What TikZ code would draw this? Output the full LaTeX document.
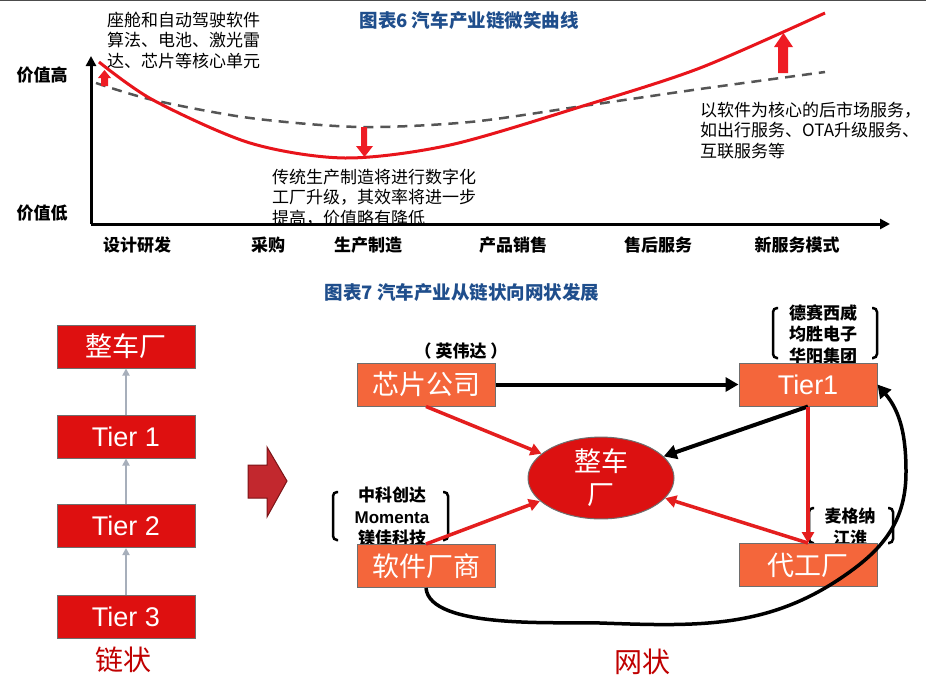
\documentclass[tikz,border=0pt]{standalone}
\usepackage{fontspec}
\setmainfont{Noto Sans CJK SC}
\newfontfamily\latinfont{Liberation Sans}
\usetikzlibrary{shapes.geometric,arrows.meta}
\definecolor{titleblue}{HTML}{1F4E8C}
\definecolor{curvered}{HTML}{E8141B}
\definecolor{dashgray}{HTML}{555555}
\definecolor{arrowred}{HTML}{EE1C24}
\definecolor{chainred}{HTML}{DE1010}
\definecolor{netorange}{HTML}{F4663B}
\definecolor{boxborder}{HTML}{6E6E6E}
\definecolor{oemred}{HTML}{DC1111}
\definecolor{connred}{HTML}{E41E1E}
\definecolor{chaingray}{HTML}{A7AFBB}
\definecolor{tagred}{HTML}{C00000}
\definecolor{bigfill}{HTML}{C2282E}
\definecolor{bigdraw}{HTML}{7A1417}
\tikzset{
  charttitle/.style={font=\fontsize{18.5pt}{22pt}\selectfont\bfseries, text=titleblue, inner sep=0pt},
  remark/.style={font=\fontsize{17pt}{20.5pt}\selectfont, align=left, inner sep=0pt, anchor=base west},
  axislabel/.style={font=\fontsize{17pt}{20pt}\selectfont\bfseries, inner sep=0pt},
  axis/.style={line width=3pt, -{Triangle[length=10pt,width=10pt]}},
  chainbox/.style={draw=boxborder, line width=1pt, fill=chainred, text=white, minimum width=138pt, minimum height=43pt, inner sep=0pt, font=\fontsize{27pt}{30pt}\selectfont},
  netbox/.style={chainbox, fill=netorange},
  chainarrow/.style={draw=chaingray, line width=2pt, -{Triangle[length=7pt,width=7pt]}},
  tag/.style={text=tagred, font=\fontsize{28pt}{30pt}\selectfont, inner sep=0pt},
  firm/.style={font=\fontsize{17pt}{21.5pt}\selectfont\bfseries, align=center, inner sep=0pt},
  brk/.style={line width=2.5pt, rounded corners=4pt},
  blackarrow/.style={line width=4pt, -{Triangle[length=13pt,width=14pt]}},
  redarrow/.style={draw=connred, line width=3.5pt, -{Triangle[length=11pt,width=12pt]}}
}
\begin{document}
\begin{tikzpicture}[x=1pt,y=-1pt]
\useasboundingbox (0,0) rectangle (926,691);
\fill[white] (0,0) rectangle (926,691);
\draw[gray!60!black, line width=1pt] (0,0.5) -- (926,0.5);

% smile curve
\node[charttitle] (t6) at (469,20) {图表6 汽车产业链微笑曲线};
\node[remark] (core) at (107,67) {座舱和自动驾驶软件\\算法、电池、激光雷\\达、芯片等核心单元};
\node[remark] (make) at (272,224) {传统生产制造将进行数字化\\工厂升级，其效率将进一步\\提高，价值略有降低};
\node[remark] (svc) at (700,157) {以软件为核心的后市场服务，\\如出行服务、OTA升级服务、\\互联服务等};

\draw[dashgray, line width=2.5pt, dash pattern=on 10pt off 7pt]
  plot[smooth] coordinates {(96,83) (153,100) (250,118) (360,127) (470,122) (583,106) (700,89) (825,72)};
\draw[curvered, line width=3pt]
  plot[smooth] coordinates {(99,62) (153,100) (250,143) (345,158) (450,145) (583,106) (700,68) (825,13)};

\fill[arrowred] (101,86) -- (101,78) -- (98,78) -- (104.5,70) -- (111,78) -- (108,78) -- (108,86) -- cycle;
\fill[arrowred] (361,127) -- (367,127) -- (367,146) -- (373,146) -- (364.5,157) -- (356,146) -- (361,146) -- cycle;
\fill[arrowred] (778,73) -- (788,73) -- (788,47) -- (793,47) -- (783.5,33) -- (774,47) -- (778,47) -- cycle;

\coordinate (o) at (91,224);
\coordinate (ytip) at (91,56);
\coordinate (xtip) at (890,224);
\draw[axis] (o) -- (ytip);
\draw[axis] (o) -- (xtip);

\node[axislabel] (high) at (42,75) {价值高};
\node[axislabel] (low) at (42,213) {价值低};
\foreach \x/\t [count=\i] in {137/设计研发, 268/采购, 368/生产制造, 513/产品销售, 658/售后服务, 797/新服务模式}
  \node[axislabel] (stage\i) at (\x,245) {\t};

% chain
\node[charttitle] (t7) at (462,292) {图表7 汽车产业从链状向网状发展};
\node[chainbox] (oemc) at (126,346.5) {整车厂};
\node[chainbox, font=\fontsize{27pt}{30pt}\latinfont] (c1) at (126,436.5) {Tier 1};
\node[chainbox, font=\fontsize{27pt}{30pt}\latinfont] (c2) at (126,526) {Tier 2};
\node[chainbox, font=\fontsize{27pt}{30pt}\latinfont] (c3) at (126,616.5) {Tier 3};
\draw[chainarrow] (c3) -- (c2);
\draw[chainarrow] (c2) -- (c1);
\draw[chainarrow] (c1) -- (oemc);
\node[tag] (chainlbl) at (123,660) {链状};

\draw[bigdraw, fill=bigfill, line width=1pt] (248,465) -- (267,465) -- (267,447) -- (287,481) -- (267,517) -- (267,498) -- (248,498) -- cycle;

% network
\node[firm] (nv) at (461,351) {（\ 英伟达\ ）};
\node[firm] (tierfirms) at (823,334) {德赛西威\\均胜电子\\华阳集团};
\draw[brk] (778,308) -- (773,308) -- (773,358) -- (778,358);
\draw[brk] (872,308) -- (877,308) -- (877,358) -- (872,358);
\node[firm] (softfirms) at (392,517) {中科创达\\{\latinfont\bfseries Momenta}\\镁佳科技};
\draw[brk] (338,492) -- (333,492) -- (333,540) -- (338,540);
\draw[brk] (443,492) -- (448,492) -- (448,540) -- (443,540);
\node[firm] (fabfirms) at (850,527) {麦格纳\\江淮};
\draw[brk] (814,508) -- (809,508) -- (809,543) -- (814,543);
\draw[brk] (888,508) -- (893,508) -- (893,543) -- (888,543);

\node[netbox] (chip) at (426,384.5) {芯片公司};
\node[netbox, font=\fontsize{27pt}{30pt}\latinfont] (tier) at (808,384.5) {Tier1};
\node[netbox] (soft) at (426,566) {软件厂商};
\node[netbox] (fab) at (808,565) {代工厂};
\node[ellipse, draw=boxborder, line width=1pt, fill=oemred, text=white, minimum width=146pt, minimum height=78pt, inner sep=0pt, align=center, font=\fontsize{27pt}{33pt}\selectfont] (oem) at (601,478) {整车\\厂};

\draw[blackarrow] (chip) -- (tier);
\draw[redarrow] (chip.south) -- (oem);
\draw[blackarrow] (tier.south) -- (oem);
\draw[redarrow] (tier.south) -- (fab.north);
\draw[redarrow] (soft.north) -- (oem);
\draw[redarrow] (fab.north) -- (oem);
\coordinate (cbot) at (600,623);
\coordinate (cmid) at (855,568);
\coordinate (cright) at (906,472);
\draw[blackarrow, line width=3.5pt] (soft.south) to[out=-85,in=178,looseness=0.6] (cbot) to[out=-2,in=217] (cmid) to[out=37,in=-90] (cright) to[out=90,in=-50] (tier.east);

\node[tag] (netlbl) at (642,662) {网状};
\end{tikzpicture}
\end{document}
